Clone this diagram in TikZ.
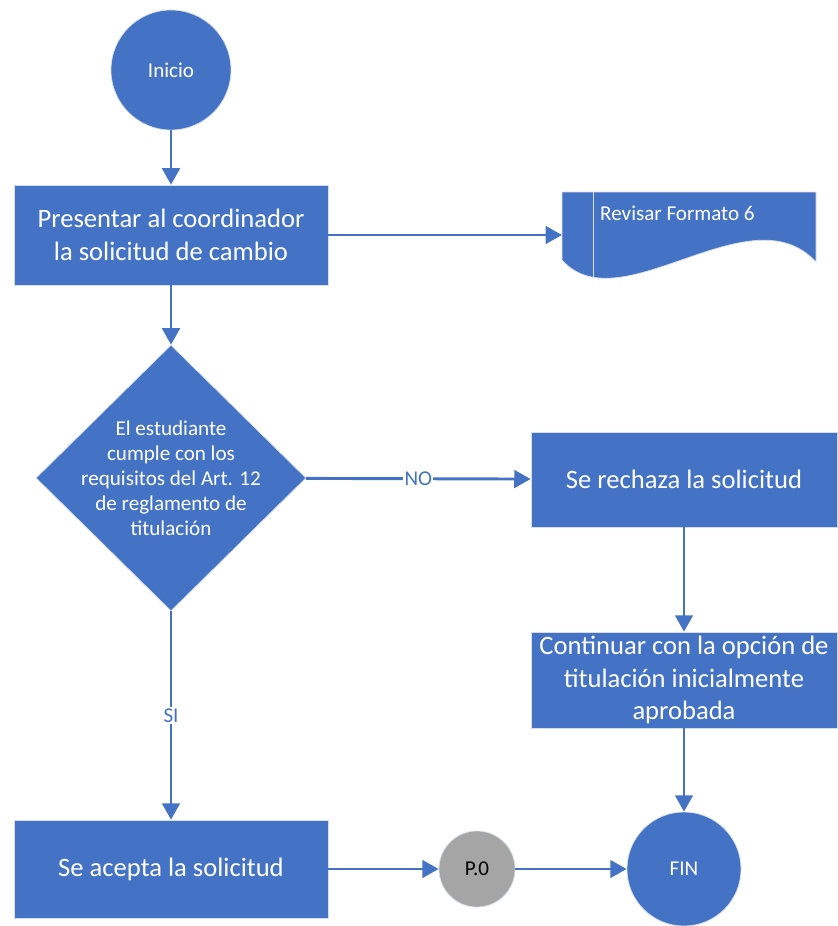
\documentclass[tikz,border=0pt]{standalone}
\usepackage{fontspec}
\setmainfont{Carlito}
\usepackage{xcolor}
\usepackage{tikz}
\usetikzlibrary{arrows.meta,shapes.geometric}
\definecolor{azul}{HTML}{4472C4}
\definecolor{gris}{HTML}{A5A5A5}
\definecolor{borde}{HTML}{D5DCEB}

\begin{document}
\begin{tikzpicture}[x=0.03cm, y=-0.03cm,
  caja/.style={draw=borde, line width=0.6pt, fill=azul, text=white, align=center, inner sep=0pt, font=\fontsize{22.7}{28}\selectfont},
  circulo/.style={circle, draw=borde, line width=0.6pt, fill=azul, text=white, inner sep=0pt, font=\fontsize{18}{22}\selectfont},
  flecha/.style={draw=azul, line width=2.5pt, -{Triangle[length=14pt, width=15pt]}},
  etiqueta/.style={fill=white, text=azul, inner sep=1pt, font=\fontsize{18}{22}\selectfont}]%
\useasboundingbox (0,0) rectangle (837,926);%
\node[circulo, minimum size=3.6cm] (inicio) at (171,70) {Inicio};%
\node[caja, minimum width=9.42cm, minimum height=3cm] (presentar) at (171,235) {Presentar al coordinador\\la solicitud de cambio};%
% documento
\filldraw[fill=azul, draw=borde, line width=0.6pt] (562,192) -- (816,192) -- (816,262) .. controls (750,190) and (620,325) .. (562,260) -- cycle;%
\draw[borde, line width=0.6pt] (593,192) -- (593,277);%
\node[anchor=west, text=white, inner sep=0pt, font=\fontsize{18}{22}\selectfont] (revisartexto) at (600,213) {Revisar Formato 6};%
\coordinate (revisar) at (562,235);%
% decision
\node[diamond, aspect=1, draw=borde, line width=0.6pt, fill=azul, minimum width=8.1cm, minimum height=7.98cm, inner sep=0pt] (decision) at (171,478) {};%
\node[text=white, align=center, font=\fontsize{18}{21.3}\selectfont] (pregunta) at (decision.center) {El estudiante\\cumple con los\\requisitos del Art. 12\\de reglamento de\\titulación};%
\node[caja, minimum width=9.18cm, minimum height=2.85cm] (rechaza) at (684,479.5) {Se rechaza la solicitud};%
\node[caja, minimum width=9.18cm, minimum height=2.88cm] (continuar) at (684,680) {Continuar con la opción de\\titulación inicialmente\\aprobada};%
\node[caja, minimum width=9.42cm, minimum height=2.94cm] (acepta) at (171,869) {Se acepta la solicitud};%
\node[circulo, fill=gris, text=black, minimum size=2.28cm] (p0) at (477,869) {P.0};%
\node[circulo, minimum size=3.42cm] (fin) at (684,869) {FIN};%
% conectores
\draw[flecha] (inicio) -- (presentar);%
\draw[flecha] (presentar) -- (revisar);%
\draw[flecha] (presentar) -- (decision);%
\draw[flecha] (decision) -- node[etiqueta] {NO} (rechaza);%
\draw[flecha] (decision) -- node[etiqueta] {SI} (acepta);%
\draw[flecha] (rechaza) -- (continuar);%
\draw[flecha] (continuar) -- (fin);%
\draw[flecha] (acepta) -- (p0);%
\draw[flecha] (p0) -- (fin);%
\end{tikzpicture}
\end{document}
